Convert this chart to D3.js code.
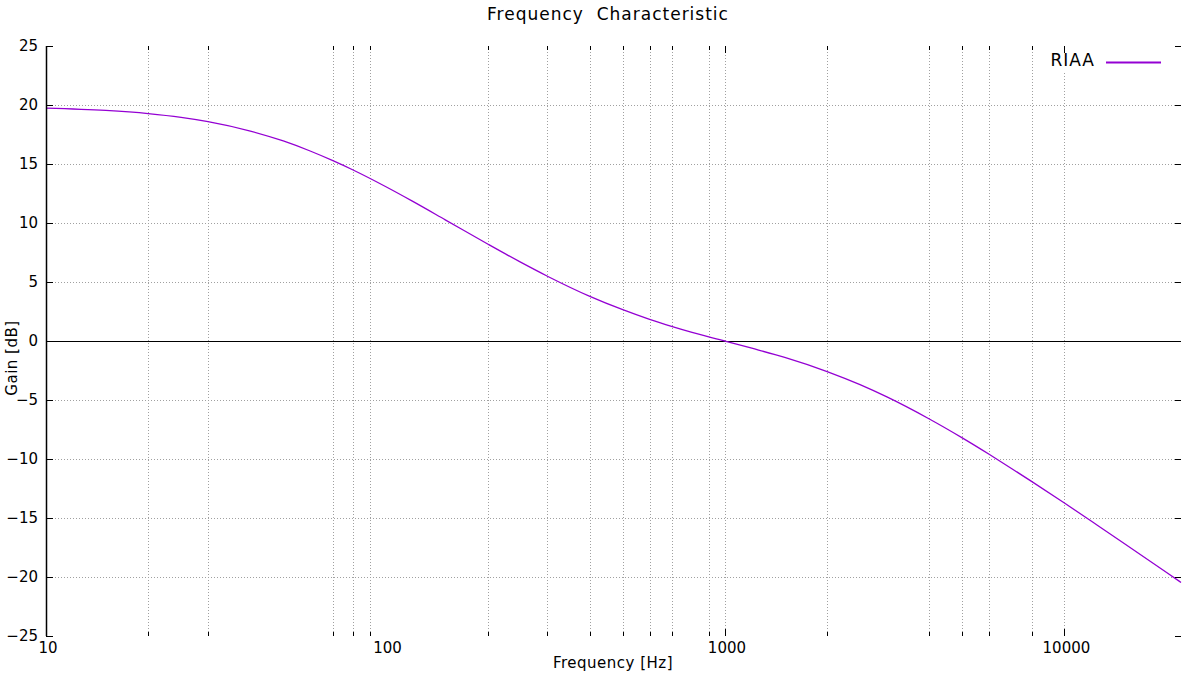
<!DOCTYPE html>
<html>
<head>
  <meta charset="UTF-8">
  <title>Frequency Characteristic</title>
  <style type="text/css">
    body { margin: 0; background: #fff; }
    text { font-family: "DejaVu Sans", sans-serif; fill: #000; }
  </style>
</head>
<body>
<script src="https://d3js.org/d3.v7.min.js"></script>
<script>
  // curve values (RIAA playback, 0 dB at 1 kHz)
  var freqs  = [10, 15, 20, 25, 30, 40, 50, 60, 70, 80, 100, 120, 150, 200, 250, 300, 400, 500, 600, 700, 800,
                1000, 1200, 1500, 2000, 2500, 3000, 4000, 5000, 6000, 7000, 8000, 10000, 12500, 15000, 20000, 22050];
  var gainDb = [19.74, 19.54, 19.27, 18.95, 18.59, 17.79, 16.95, 16.10, 15.28, 14.51, 13.09, 11.85, 10.27, 8.22, 6.68, 5.49, 3.78, 2.65, 1.83, 1.22, 0.73,
                0, -0.61, -1.39, -2.59, -3.70, -4.74, -6.61, -8.21, -9.60, -10.82, -11.90, -13.73, -15.61, -17.16, -19.62, -20.46];

  // ticks / grid as they show in the picture
  var yTicks = [25, 20, 15, 10, 5, 0, -5, -10, -15, -20, -25];
  var xLabels = [10, 100, 1000, 10000];
  var xGrid = [20, 30, 70, 80, 90, 200, 300, 400, 500, 600, 700, 900, 1000, 2000, 4000, 5000, 6000, 8000, 10000];
  var xMajor = [1000, 10000];
  var seriesName = "RIAA";

  var W = 1200, H = 675;
  var margin = {top: 46, right: 19, bottom: 39, left: 46};
  var width = W - margin.left - margin.right;
  var height = H - margin.top - margin.bottom;

  var svg = d3.select("body").append("svg")
      .attr("width", W)
      .attr("height", H);
  var g = svg.append("g")
      .attr("transform", "translate(" + margin.left + "," + margin.top + ")");

  var x = d3.scaleLog().domain([10, 22050]).range([0, width]);
  var y = d3.scaleLinear().domain([-25, 25]).range([height, 0]);

  // grid (dotted)
  g.append("g").selectAll("line")
      .data(xGrid)
    .enter().append("line")
      .attr("x1", function(d) { return Math.round(x(d)) + 0.5; })
      .attr("x2", function(d) { return Math.round(x(d)) + 0.5; })
      .attr("y1", 0).attr("y2", height)
      .attr("stroke", "#a0a0a0").attr("stroke-width", 1)
      .attr("stroke-dasharray", "1,2");
  g.append("g").selectAll("line")
      .data(yTicks.filter(function(d) { return d !== 0 && Math.abs(d) !== 25; }))
    .enter().append("line")
      .attr("x1", 0).attr("x2", width)
      .attr("y1", function(d) { return Math.round(y(d)) + 0.5; })
      .attr("y2", function(d) { return Math.round(y(d)) + 0.5; })
      .attr("stroke", "#a0a0a0").attr("stroke-width", 1)
      .attr("stroke-dasharray", "1,2");

  // zero line
  g.append("line")
      .attr("x1", 0).attr("x2", width)
      .attr("y1", Math.round(y(0)) + 0.5).attr("y2", Math.round(y(0)) + 0.5)
      .attr("stroke", "#000").attr("stroke-width", 1);

  // the curve
  var line = d3.line()
      .x(function(d, i) { return x(freqs[i]); })
      .y(function(d) { return y(d); })
      .curve(d3.curveMonotoneX);
  g.append("path")
      .datum(gainDb)
      .attr("fill", "none")
      .attr("stroke", "#9400d3")
      .attr("stroke-width", 1.3)
      .attr("d", line);

  // legend (opaque box like gnuplot)
  var legend = g.append("g").attr("transform", "translate(" + (width - 137) + ",0)");
  legend.append("rect")
      .attr("x", 0).attr("y", 0).attr("width", 130).attr("height", 27)
      .attr("fill", "#fff");
  legend.append("text")
      .attr("x", 51).attr("y", 20)
      .style("text-anchor", "end")
      .style("font-size", "17px")
      .style("letter-spacing", "1px")
      .text(seriesName);
  legend.append("line")
      .attr("x1", 62).attr("x2", 117)
      .attr("y1", 16.5).attr("y2", 16.5)
      .attr("stroke", "#9400d3").attr("stroke-width", 2);

  // left axis (only the line on the left is drawn)
  var yAxis = d3.axisLeft(y).tickValues(yTicks).tickSize(-7).tickPadding(14)
      .tickFormat(d3.format("d"));
  var ya = g.append("g").call(yAxis);
  ya.select(".domain").attr("d", "M0.5," + height + "V0").attr("stroke-width", 1.5);
  ya.selectAll("text").style("font-size", "15px").attr("x", -8);

  // right side ticks
  g.append("g").selectAll("line")
      .data(yTicks)
    .enter().append("line")
      .attr("x1", width - 6).attr("x2", width)
      .attr("y1", function(d) { return Math.round(y(d)) + 0.5; })
      .attr("y2", function(d) { return Math.round(y(d)) + 0.5; })
      .attr("stroke", "#000");

  // bottom and top ticks
  [0, height].forEach(function(base) {
    var dir = base === 0 ? 1 : -1;
    g.append("g").selectAll("line")
        .data(xGrid)
      .enter().append("line")
        .attr("x1", function(d) { return Math.round(x(d)) + 0.5; })
        .attr("x2", function(d) { return Math.round(x(d)) + 0.5; })
        .attr("y1", base)
        .attr("y2", function(d) { return base + dir * (xMajor.indexOf(d) >= 0 ? 7 : 4); })
        .attr("stroke", "#000");
  });

  // bottom labels
  g.append("g").selectAll("text")
      .data(xLabels)
    .enter().append("text")
      .attr("x", function(d) { return x(d) + 2; })
      .attr("y", height + 17)
      .style("text-anchor", "middle")
      .style("font-size", "15px")
      .text(function(d) { return d; });

  // titles
  svg.append("text")
      .attr("x", 608).attr("y", 20)
      .style("text-anchor", "middle")
      .style("font-size", "17px")
      .style("letter-spacing", "1px")
      .style("white-space", "pre")
      .attr("xml:space", "preserve")
      .text("Frequency  Characteristic");
  svg.append("text")
      .attr("x", 613).attr("y", 668)
      .style("text-anchor", "middle")
      .style("font-size", "15px")
      .style("letter-spacing", "0.5px")
      .text("Frequency [Hz]");
  svg.append("text")
      .attr("transform", "translate(17,358) rotate(-90)")
      .style("text-anchor", "middle")
      .style("font-size", "15px")
      .style("letter-spacing", "0.5px")
      .text("Gain [dB]");
</script>
</body>
</html>
